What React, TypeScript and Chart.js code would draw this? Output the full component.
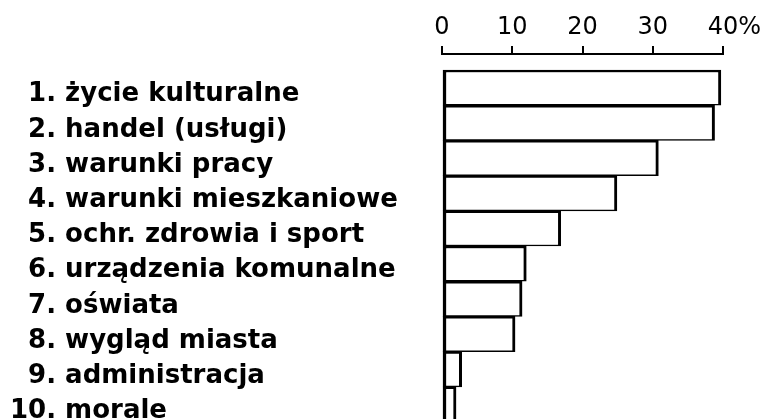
import React, { useEffect, useRef } from "react";
import { Chart, registerables } from "chart.js";

Chart.register(...registerables);

const categories = [
  "1. życie kulturalne",
  "2. handel (usługi)",
  "3. warunki pracy",
  "4. warunki mieszkaniowe",
  "5. ochr. zdrowia i sport",
  "6. urządzenia komunalne",
  "7. oświata",
  "8. wygląd miasta",
  "9. administracja",
  "10. morale",
];

const values = [39.7, 38.8, 30.8, 24.9, 16.9, 12.0, 11.4, 10.4, 2.8, 2.0];

const xTicks = [0, 10, 20, 30, 40];
const lastTickSuffix = "%";

export default function App() {
  const ref = useRef<HTMLCanvasElement | null>(null);

  useEffect(() => {
    if (!ref.current) return;
    const chart = new Chart(ref.current, {
      type: "bar",
      data: {
        datasets: [
          {
            data: values.map((v, i) => ({ x: v, y: i })),
            backgroundColor: "#ffffff",
            borderColor: "#000000",
            borderWidth: { top: 2.5, bottom: 1.5, left: 3.5, right: 3 } as any,
            borderSkipped: false,
            barPercentage: 1,
            categoryPercentage: 1,
          },
        ],
      },
      options: {
        indexAxis: "y",
        responsive: false,
        animation: false,
        layout: { padding: { left: 10, right: 40, top: 0, bottom: 0 } },
        plugins: { legend: { display: false }, tooltip: { enabled: false } },
        scales: {
          x: {
            type: "linear",
            position: "top",
            min: 0,
            max: 40,
            afterBuildTicks: (scale: any) => {
              scale.ticks = xTicks.map((v) => ({ value: v }));
            },
            afterFit: (scale: any) => {
              scale.height = 54;
              scale.paddingLeft = 0;
              scale.paddingRight = 0;
            },
            ticks: {
              color: "#000",
              padding: 4,
              autoSkip: false,
              font: { family: "DejaVu Sans", size: 24 },
              maxRotation: 0,
              callback: (v: any) =>
                v === xTicks[xTicks.length - 1] ? "   " + v + lastTickSuffix : String(v),
            },
            grid: {
              display: true,
              drawOnChartArea: false,
              drawTicks: true,
              tickLength: 8,
              color: "#000",
              lineWidth: 2,
            },
            border: { display: true, color: "#000", width: 2 },
          },
          y: {
            type: "linear",
            reverse: true,
            offset: false,
            min: -0.955,
            max: 9.5,
            afterBuildTicks: (scale: any) => {
              scale.ticks = categories.map((_c, i) => ({ value: i }));
            },
            afterFit: (scale: any) => {
              scale.width = 432;
              scale.paddingTop = 0;
              scale.paddingBottom = 0;
            },
            grid: { display: false, offset: false },
            border: { display: false },
            ticks: {
              color: "#000",
              autoSkip: false,
              crossAlign: "far",
              labelOffset: 7,
              font: { family: "DejaVu Sans", size: 26, weight: "bold" },
              callback: (v: any) => {
                const s = categories[Math.round(Number(v))];
                if (s === undefined) return "";
                return /^\d\./.test(s) ? "\u2007" + s : s;
              },
            },
          },
        },
      },
    });
    return () => chart.destroy();
  }, []);

  return (
    <div
      style={{
        position: "fixed",
        left: 0,
        top: 0,
        width: 763,
        height: 419,
        overflow: "hidden",
        background: "#fff",
      }}
    >
      <canvas ref={ref} width={763} height={422} style={{ display: "block" }} />
    </div>
  );
}
